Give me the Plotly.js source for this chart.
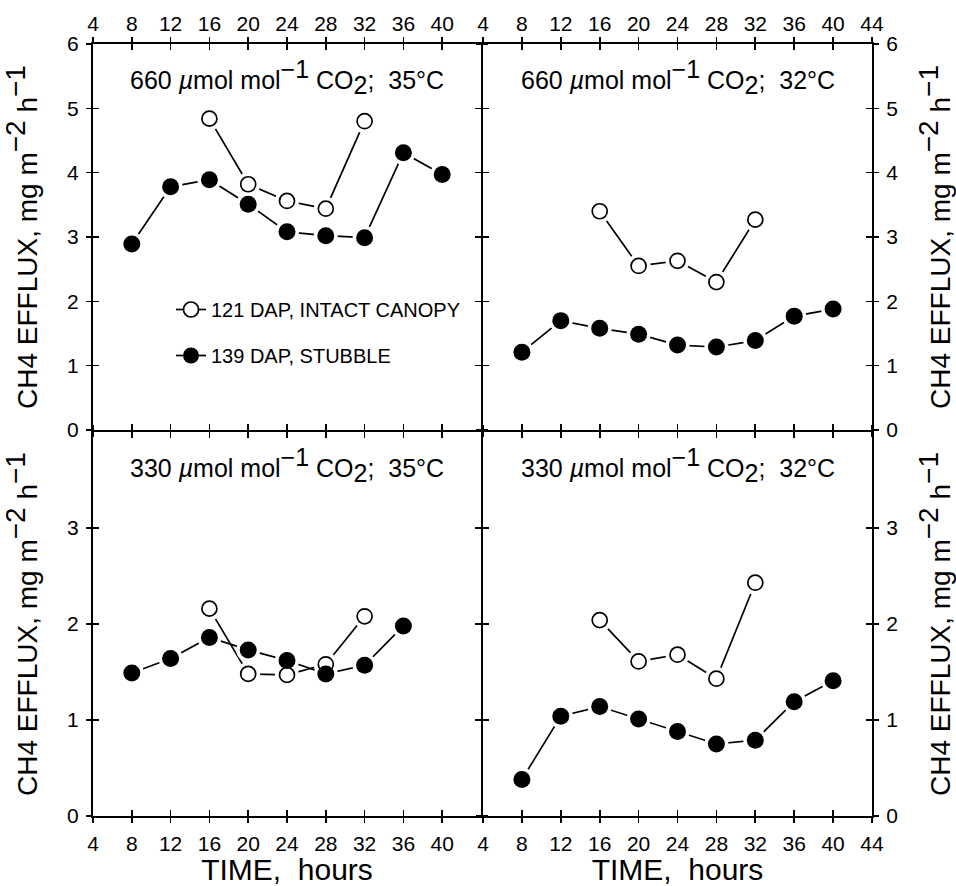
<!DOCTYPE html>
<html>
<head>
<meta charset="utf-8">
<script src="https://cdn.plot.ly/plotly-3.0.1.min.js"></script>
<style>html,body{margin:0;padding:0;background:#fff;}#chart{width:956px;height:886px;}</style>
</head>
<body>
<div id="chart"></div>
<script>
// ---- data ----
const hoursIntact = [16, 20, 24, 28, 32];
const hoursStubble = [8, 12, 16, 20, 24, 28, 32, 36, 40];
const hoursStubble330_35 = [8, 12, 16, 20, 24, 28, 32, 36];

const intact660_35 = [4.84, 3.82, 3.56, 3.44, 4.80];
const stubble660_35 = [2.89, 3.78, 3.89, 3.51, 3.08, 3.02, 2.99, 4.31, 3.97];
const intact660_32 = [3.40, 2.55, 2.63, 2.30, 3.27];
const stubble660_32 = [1.21, 1.70, 1.58, 1.49, 1.32, 1.29, 1.39, 1.77, 1.88];
const intact330_35 = [2.16, 1.48, 1.47, 1.58, 2.08];
const stubble330_35 = [1.49, 1.64, 1.86, 1.73, 1.62, 1.48, 1.57, 1.98];
const intact330_32 = [2.04, 1.61, 1.68, 1.43, 2.43];
const stubble330_32 = [0.38, 1.04, 1.14, 1.01, 0.88, 0.75, 0.79, 1.19, 1.41];

const seriesNames = ['121 DAP, INTACT CANOPY', '139 DAP, STUBBLE'];
const sp = (s, n) => '<span style="font-size:' + n + 'px">' + s + '</span>';
const TS = 25;
const panelTitles = [
  '660 <i>µ</i>mol mol<sup>' + sp('−1', TS) + '</sup> CO<sub>' + sp('2', TS) + '</sub>;\u00A0\u00A035°C',
  '660 <i>µ</i>mol mol<sup>' + sp('−1', TS) + '</sup> CO<sub>' + sp('2', TS) + '</sub>;\u00A0\u00A032°C',
  '330 <i>µ</i>mol mol<sup>' + sp('−1', TS) + '</sup> CO<sub>' + sp('2', TS) + '</sub>;\u00A0\u00A035°C',
  '330 <i>µ</i>mol mol<sup>' + sp('−1', TS) + '</sup> CO<sub>' + sp('2', TS) + '</sub>;\u00A0\u00A032°C'
];
const xTicksLeft = [4, 8, 12, 16, 20, 24, 28, 32, 36, 40];
const xTicksRight = [4, 8, 12, 16, 20, 24, 28, 32, 36, 40, 44];
const yTicksTop = [0, 1, 2, 3, 4, 5, 6];
const yTicksBottom = [0, 1, 2, 3];
const xTitle = 'TIME,\u00A0\u00A0hours';
const YS = 28;
const yTitle = 'CH4 EFFLUX, mg m<sup>' + sp('−2', YS) + '</sup> h<sup>' + sp('−1', YS) + '</sup>';

// ---- geometry ----
const W = 956, H = 886;
const px = v => v / W, py = v => 1 - v / H;
const xL = [px(93), px(481)], xR = [px(483), px(872)];
const yT = [py(430), py(44)], yB = [py(816), py(432)];

const FONT = 'Liberation Sans, Arial, sans-serif';

const panels = [
  {xa: 'x', ya: 'y', hx: hoursIntact, ho: intact660_35, hs: hoursStubble, so: stubble660_35},
  {xa: 'x2', ya: 'y2', hx: hoursIntact, ho: intact660_32, hs: hoursStubble, so: stubble660_32},
  {xa: 'x3', ya: 'y3', hx: hoursIntact, ho: intact330_35, hs: hoursStubble330_35, so: stubble330_35},
  {xa: 'x4', ya: 'y4', hx: hoursIntact, ho: intact330_32, hs: hoursStubble, so: stubble330_32}
];

const traces = [];
panels.forEach(p => {
  // lines with white halos (gap between line and marker)
  traces.push({x: p.hx, y: p.ho, xaxis: p.xa, yaxis: p.ya, mode: 'lines+markers', showlegend: false, hoverinfo: 'skip',
    line: {color: '#000', width: 1.7}, marker: {size: 24, color: '#fff', line: {width: 0}}});
  traces.push({x: p.hs, y: p.so, xaxis: p.xa, yaxis: p.ya, mode: 'lines+markers', showlegend: false, hoverinfo: 'skip',
    line: {color: '#000', width: 1.7}, marker: {size: 24, color: '#fff', line: {width: 0}}});
  // markers
  traces.push({x: p.hx, y: p.ho, xaxis: p.xa, yaxis: p.ya, mode: 'markers', showlegend: false,
    marker: {size: 15, color: '#fff', line: {color: '#000', width: 1.7}}});
  traces.push({x: p.hs, y: p.so, xaxis: p.xa, yaxis: p.ya, mode: 'markers', showlegend: false,
    marker: {size: 17, color: '#000', line: {color: '#000', width: 0}}});
});
// legend entries
traces.push({x: [null], y: [null], xaxis: 'x', yaxis: 'y', mode: 'lines+markers', name: seriesNames[0], legendgroup: 'a',
  line: {color: '#000', width: 1.7}, marker: {size: 15, color: '#fff', line: {color: '#000', width: 1.7}}});
traces.push({x: [null], y: [null], xaxis: 'x', yaxis: 'y', mode: 'lines+markers', name: seriesNames[1], legendgroup: 'b',
  line: {color: '#000', width: 1.7}, marker: {size: 17, color: '#000'}});

const tickFont = {family: FONT, size: 21, color: '#000'};
// main axes carry labels + inward ticks; overlay axes add outward ticks -> crossing ticks
function xAxis(domain, anchor, side, ticks, title) {
  const a = {domain: domain, anchor: anchor, range: [4, 44], side: side, tickvals: ticks, ticktext: ticks.map(String),
    showticklabels: true, ticks: 'inside', ticklen: 6, tickwidth: 1.6, tickcolor: '#000', mirror: 'ticks',
    showline: true, linewidth: 2, linecolor: '#000', showgrid: false, zeroline: false, tickfont: tickFont, fixedrange: true,
    ticklabelstandoff: side === 'top' ? 3 : 8};
  if (title) a.title = {text: title, font: {family: FONT, size: 30, color: '#000'}, standoff: 11};
  return a;
}
function yAxis(domain, anchor, side, range, ticks, title) {
  const a = {domain: domain, anchor: anchor, range: range, side: side, tickvals: ticks, ticktext: ticks.map(String),
    ticks: 'inside', ticklen: 6, tickwidth: 1.6, tickcolor: '#000', mirror: 'ticks',
    showline: true, linewidth: 2, linecolor: '#000', showgrid: false, zeroline: false, tickfont: tickFont, fixedrange: true,
    ticklabelstandoff: 8};
  if (title) a.title = {text: title, font: {family: FONT, size: YS, color: '#000'}, standoff: side === 'left' ? 22 : 35};
  return a;
}
function overlay(base, anchor, src) {
  return {overlaying: base, anchor: anchor, range: src.range, tickvals: src.tickvals, side: src.side,
    ticks: 'outside', ticklen: 6, tickwidth: 1.6, tickcolor: '#000',
    mirror: 'ticks', showline: false, showgrid: false, zeroline: false, showticklabels: false, fixedrange: true};
}

const layout = {
  width: W, height: H, margin: {l: 0, r: 0, t: 0, b: 0},
  paper_bgcolor: '#fff', plot_bgcolor: 'rgba(0,0,0,0)',
  font: {family: FONT, color: '#000'},
  showlegend: true,
  legend: {x: px(171), xanchor: 'left', y: py(290), yanchor: 'top', bgcolor: 'rgba(0,0,0,0)', borderwidth: 0,
    font: {family: FONT, size: 20, color: '#000'}, tracegroupgap: 17, traceorder: 'grouped'},
  xaxis: xAxis(xL, 'y', 'top', xTicksLeft),
  yaxis: yAxis(yT, 'x', 'left', [0, 6], yTicksTop, yTitle),
  xaxis2: xAxis(xR, 'y2', 'top', xTicksRight),
  yaxis2: yAxis(yT, 'x2', 'right', [0, 6], yTicksTop, yTitle),
  xaxis3: xAxis(xL, 'y3', 'bottom', xTicksLeft, xTitle),
  yaxis3: yAxis(yB, 'x3', 'left', [0, 4], yTicksBottom, yTitle),
  xaxis4: xAxis(xR, 'y4', 'bottom', xTicksRight, xTitle),
  yaxis4: yAxis(yB, 'x4', 'right', [0, 4], yTicksBottom, yTitle),
  annotations: []
};
[1, 2, 3, 4].forEach(i => {
  const s = i === 1 ? '' : String(i);
  layout['xaxis' + (i + 4)] = overlay('x' + s, 'y' + (i + 4), layout['xaxis' + s]);
  layout['yaxis' + (i + 4)] = overlay('y' + s, 'x' + (i + 4), layout['yaxis' + s]);
  traces.push({x: [], y: [], xaxis: 'x' + (i + 4), yaxis: 'y' + (i + 4), mode: 'markers', showlegend: false, hoverinfo: 'skip'});
});

panelTitles.forEach((t, i) => {
  const s = i === 0 ? '' : String(i + 1);
  layout.annotations.push({text: t, xref: 'x' + s + ' domain', yref: 'y' + s + ' domain', x: 0.5, y: 0.915,
    xanchor: 'center', yanchor: 'middle', showarrow: false, font: {family: FONT, size: TS, color: '#000'}});
});

Plotly.newPlot('chart', traces, layout, {displayModeBar: false, staticPlot: true});
</script>
</body>
</html>
